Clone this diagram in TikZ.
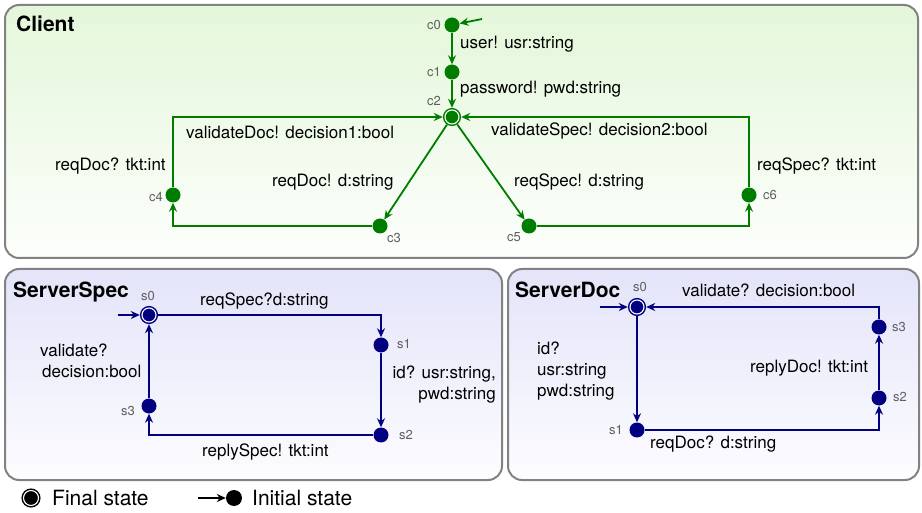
\documentclass[tikz,border=0pt]{standalone}
\usepackage{fontspec}
\setmainfont{TeX Gyre Heros}
\usetikzlibrary{arrows.meta}

\definecolor{clientgreen}{RGB}{0,125,0}
\definecolor{servernavy}{RGB}{0,0,128}
\definecolor{clienttop}{RGB}{228,247,218}
\definecolor{servertop}{RGB}{228,228,250}
\definecolor{panelgray}{RGB}{130,130,130}
\definecolor{namegray}{RGB}{95,95,95}

% rounded panel whose colour fades to white downwards
\newcommand{\panelbox}[5]{%
  \begin{scope}
    \clip[rounded corners=14pt] (#1,#2) rectangle (#3,#4);
    \foreach \k in {0,...,39}{
      \pgfmathsetmacro{\pct}{100-2.3*\k}
      \fill[#5!\pct!white] (#1,{#2+(#4-#2)*\k/40}) rectangle (#3,{#2+(#4-#2)*(\k+1)/40+0.6});
    }
  \end{scope}
  \draw[draw=panelgray,line width=2pt,rounded corners=14pt] (#1,#2) rectangle (#3,#4);}

\begin{document}
\begin{tikzpicture}[x=1pt,y=-1pt,
  every node/.style={font=\fontsize{17}{21}\selectfont},
  loc/.style={circle,fill=#1,draw=none,minimum size=15pt,inner sep=0pt},
  fin/.style={circle,fill=#1,draw=#1,double=white,double distance=1.1pt,line width=1.5pt,minimum size=14pt,inner sep=0pt,outer sep=2.2pt},
  tr/.style={draw=#1,line width=1.8pt,-{Stealth[length=9pt,width=8pt]}},
  lbl/.style={inner sep=0pt,anchor=west},
  sname/.style={font=\fontsize{13}{15}\selectfont,text=namegray,inner sep=0pt},
  title/.style={font=\bfseries\fontsize{21}{25}\selectfont,inner sep=0pt,anchor=west}]
\useasboundingbox (0,0) rectangle (922,513);

% panels
\panelbox{5}{5}{918}{258}{clienttop}
\panelbox{5}{269}{502}{480}{servertop}
\panelbox{508}{269}{919}{480}{servertop}
\node[title] (tClient) at (16,24) {Client};
\node[title] (tSpec) at (13,292) {ServerSpec};
\node[title] (tDoc) at (515,290) {ServerDoc};

% Client
\node[loc=clientgreen] (c0) at (452,25) {};
\node[loc=clientgreen] (c1) at (452,72) {};
\node[fin=clientgreen] (c2) at (452,117) {};
\node[loc=clientgreen] (c3) at (380,226) {};
\node[loc=clientgreen] (c4) at (173,195) {};
\node[loc=clientgreen] (c5) at (529,226) {};
\node[loc=clientgreen] (c6) at (749,195) {};
\node[sname,anchor=east] at (441,25) {c0};
\node[sname,anchor=east] at (441,72) {c1};
\node[sname,anchor=east] at (441,101) {c2};
\node[sname,anchor=west] at (387,238) {c3};
\node[sname,anchor=east] at (163,197) {c4};
\node[sname,anchor=east] at (521,237) {c5};
\node[sname,anchor=west] at (763,195) {c6};
\coordinate (c0in) at (482,19);
\draw[tr=clientgreen] (c0in) -- (c0);
\draw[tr=clientgreen] (c0) -- (c1);
\draw[tr=clientgreen] (c1) -- (c2);
\draw[tr=clientgreen] (c2) -- (c3);
\draw[tr=clientgreen] (c3) -| (c4);
\draw[tr=clientgreen] (c4) |- (c2);
\draw[tr=clientgreen] (c2) -- (c5);
\draw[tr=clientgreen] (c5) -| (c6);
\draw[tr=clientgreen] (c6) |- (c2);
\node[lbl] (lUser) at (460,44) {user! usr:string};
\node[lbl] (lPwd) at (460,89) {password! pwd:string};
\node[lbl] (lValDoc) at (186,132) {validateDoc! decision1:bool};
\node[lbl] (lTktDoc) at (55,166) {reqDoc? tkt:int};
\node[lbl] (lReqDoc) at (272,182) {reqDoc! d:string};
\node[lbl] (lValSpec) at (491,131) {validateSpec! decision2:bool};
\node[lbl] (lTktSpec) at (757,166) {reqSpec? tkt:int};
\node[lbl] (lReqSpec) at (514,182) {reqSpec! d:string};

% ServerSpec
\node[fin=servernavy] (s0) at (149,315) {};
\node[loc=servernavy] (s1) at (381,345) {};
\node[loc=servernavy] (s2) at (381,435) {};
\node[loc=servernavy] (s3) at (149,406) {};
\node[sname] at (148,296) {s0};
\node[sname,anchor=west] at (397,344) {s1};
\node[sname,anchor=west] at (399,435) {s2};
\node[sname,anchor=east] at (135,411) {s3};
\coordinate (s0in) at (118,315);
\draw[tr=servernavy] (s0in) -- (s0);
\draw[tr=servernavy] (s0) -| (s1);
\draw[tr=servernavy] (s1) -- (s2);
\draw[tr=servernavy] (s2) -| (s3);
\draw[tr=servernavy] (s3) -- (s0);
\node[lbl] (lSpecReq) at (200,301) {reqSpec?d:string};
\node[lbl,anchor=east,align=right] (lSpecId) at (496,385) {id? usr:string,\\pwd:string};
\node[lbl] (lSpecReply) at (202,452) {replySpec! tkt:int};
\node[lbl,align=left] (lSpecVal) at (40,361) {validate?\\\hspace{2pt}decision:bool};

% ServerDoc
\node[fin=servernavy] (t0) at (637,307) {};
\node[loc=servernavy] (t1) at (637,430) {};
\node[loc=servernavy] (t2) at (879,398) {};
\node[loc=servernavy] (t3) at (879,327) {};
\node[sname] at (640,287) {s0};
\node[sname,anchor=east] at (623,430) {s1};
\node[sname,anchor=west] at (893,397) {s2};
\node[sname,anchor=west] at (892,327) {s3};
\coordinate (t0in) at (600,307);
\draw[tr=servernavy] (t0in) -- (t0);
\draw[tr=servernavy] (t0) -- (t1);
\draw[tr=servernavy] (t1) -| (t2);
\draw[tr=servernavy] (t2) -- (t3);
\draw[tr=servernavy] (t3) |- (t0);
\node[lbl,align=left] (lDocId) at (537,371) {id?\\usr:string\\pwd:string};
\node[lbl] (lDocReq) at (650,444) {reqDoc? d:string};
\node[lbl] (lDocReply) at (750,368) {replyDoc! tkt:int};
\node[lbl] (lDocVal) at (682,290) {validate? decision:bool};

% legend
\node[fin=black,minimum size=15pt] (lgFin) at (31,498) {};
\node[lbl,font=\fontsize{21}{25}\selectfont] (lgFinTxt) at (52,498) {Final state};
\coordinate (lgArr) at (198,498);
\node[loc=black,minimum size=16pt] (lgInit) at (234,498) {};
\draw[tr=black,line width=1.5pt] (lgArr) -- (lgInit);
\node[lbl,font=\fontsize{21}{25}\selectfont] (lgInitTxt) at (252,498) {Initial state};
\end{tikzpicture}
\end{document}
